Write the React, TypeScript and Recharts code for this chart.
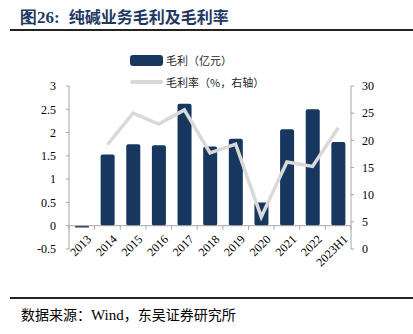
import React from "react";
import {
  ComposedChart,
  Bar,
  Line,
  XAxis,
  YAxis,
  ReferenceLine,
} from "recharts";

const categories = ["2013", "2014", "2015", "2016", "2017", "2018", "2019", "2020", "2021", "2022", "2023H1"];
const grossProfit = [-0.04, 1.53, 1.75, 1.73, 2.62, 1.7, 1.87, 0.5, 2.07, 2.5, 1.8];
const grossMargin: (number | null)[] = [null, 19.2, 25.0, 23.0, 25.6, 17.7, 19.3, 5.9, 16.0, 15.2, 22.3];
const leftTicks = [-0.5, 0, 0.5, 1, 1.5, 2, 2.5, 3];
const rightTicks = [0, 5, 10, 15, 20, 25, 30];

const data = categories.map((c, i) => ({ name: c, profit: grossProfit[i], margin: grossMargin[i] }));

const W = 413;
const H = 334;
const PLOT_TOP = 86;
const PLOT_BOTTOM = 249;
const LEFT_W = 69;
const RIGHT_W = 62;
const X_H = 40;
const PLOT_H = PLOT_BOTTOM - PLOT_TOP;
const PLOT_W = W - LEFT_W - RIGHT_W;
const L_MIN = -0.5;
const L_MAX = 3;
const ZERO_OFF = (PLOT_H * (0 - L_MIN)) / (L_MAX - L_MIN);
const BAND = PLOT_W / categories.length;

const BAR_COLOR = "#17375e";
const LINE_COLOR = "#d9d9d9";
const AXIS_COLOR = "#a6a6a6";
const SERIF = "'Liberation Serif', 'Times New Roman', serif";
const CJK = "'Noto Sans CJK SC', sans-serif";

const XTick = (props: any) => {
  const { x, payload, index } = props;
  const zy = PLOT_BOTTOM - ZERO_OFF;
  const tx = x + 4;
  const ty = zy + 8;
  return (
    <g>
      <line x1={x - BAND / 2} x2={x - BAND / 2} y1={zy} y2={zy + 4} stroke={AXIS_COLOR} />
      {index === categories.length - 1 && (
        <line x1={x + BAND / 2} x2={x + BAND / 2} y1={zy} y2={zy + 4} stroke={AXIS_COLOR} />
      )}
      <text
        x={tx}
        y={ty}
        textAnchor="end"
        dominantBaseline="hanging"
        transform={`rotate(-45, ${tx}, ${ty})`}
        fontFamily={SERIF}
        fontSize={12}
        fill="#000"
      >
        {payload.value}
      </text>
    </g>
  );
};

const LegendBox = () => (
  <div
    style={{
      position: "absolute",
      left: 130,
      top: 53,
      fontFamily: CJK,
      fontSize: 11,
      color: "#262626",
      lineHeight: "14px",
      whiteSpace: "nowrap",
    }}
  >
    <div style={{ display: "flex", alignItems: "center", height: 14 }}>
      <span style={{ display: "inline-block", width: 33, height: 11, background: BAR_COLOR, borderRadius: 3, marginRight: 3 }} />
      <span>毛利（亿元）</span>
    </div>
    <div style={{ display: "flex", alignItems: "center", height: 14, marginTop: 8 }}>
      <span style={{ display: "inline-block", width: 33, height: 4, background: LINE_COLOR, borderRadius: 2, marginRight: 3 }} />
      <span>毛利率（%，右轴）</span>
    </div>
  </div>
);

export default function App() {
  return (
    <div style={{ position: "absolute", left: 0, top: 0, width: W, height: H, background: "#fff", overflow: "hidden" }}>
      <div
        style={{
          position: "absolute",
          left: 20,
          top: 4,
          fontSize: 16,
          fontWeight: "bold",
          color: "#1f3864",
          fontFamily: CJK,
          whiteSpace: "nowrap",
        }}
      >
        <span style={{ fontFamily: SERIF, fontSize: 17 }}>图26:</span>
        <span style={{ marginLeft: 9 }}>纯碱业务毛利及毛利率</span>
      </div>
      <div style={{ position: "absolute", left: 10, right: 0, top: 29, height: 2, background: "#222" }} />
      <div style={{ position: "absolute", left: 0, top: 0 }}>
        <ComposedChart
          width={W}
          height={H}
          data={data}
          margin={{ top: PLOT_TOP, bottom: H - PLOT_BOTTOM - X_H, left: 0, right: 0 }}
        >
          <XAxis
            dataKey="name"
            height={X_H}
            axisLine={false}
            tickLine={false}
            tick={<XTick />}
            interval={0}
          />
          <YAxis
            yAxisId="left"
            width={LEFT_W}
            domain={[L_MIN, L_MAX]}
            ticks={leftTicks}
            interval={0}
            axisLine={{ stroke: AXIS_COLOR }}
            tickLine={{ stroke: AXIS_COLOR }}
            tickSize={3}
            tickMargin={10}
            tick={{ fontFamily: SERIF, fontSize: 12, fill: "#000" }}
            allowDataOverflow
          />
          <YAxis
            yAxisId="right"
            orientation="right"
            width={RIGHT_W}
            domain={[0, 30]}
            ticks={rightTicks}
            interval={0}
            axisLine={{ stroke: AXIS_COLOR }}
            tickLine={{ stroke: AXIS_COLOR }}
            tickSize={3}
            tickMargin={8}
            tick={{ fontFamily: SERIF, fontSize: 12, fill: "#000" }}
          />
          <ReferenceLine yAxisId="left" y={0} stroke={AXIS_COLOR} />
          <Bar yAxisId="left" dataKey="profit" fill={BAR_COLOR} barSize={14} radius={2} isAnimationActive={false} />
          <Line
            yAxisId="right"
            dataKey="margin"
            stroke={LINE_COLOR}
            strokeWidth={3.5}
            dot={false}
            connectNulls={false}
            isAnimationActive={false}
          />
        </ComposedChart>
      </div>
      <LegendBox />
      <div style={{ position: "absolute", left: 10, right: 0, top: 297, height: 2, background: "#222" }} />
      <div
        style={{
          position: "absolute",
          left: 21,
          top: 304,
          fontSize: 14,
          fontFamily: CJK,
          color: "#000",
          whiteSpace: "nowrap",
        }}
      >
        数据来源：<span style={{ fontFamily: SERIF, fontSize: 15 }}>Wind</span>，东吴证券研究所
      </div>
    </div>
  );
}
